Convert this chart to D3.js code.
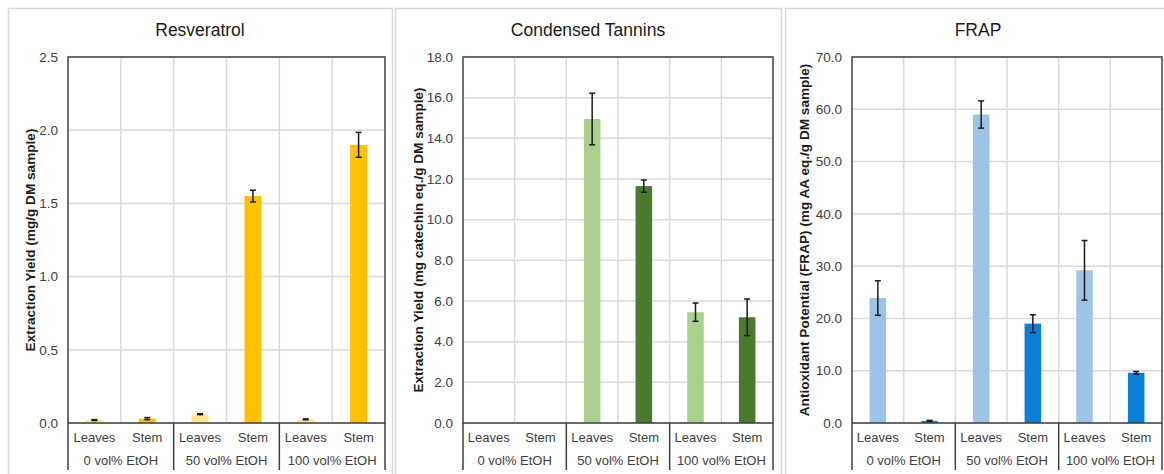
<!DOCTYPE html>
<html>
<head>
<meta charset="utf-8">
<script src="https://cdn.jsdelivr.net/npm/d3@7"></script>
<style>
  html, body { margin: 0; padding: 0; background: #fff; }
  svg { display: block; font-family: "Liberation Sans", Arial, sans-serif; }
</style>
</head>
<body>
<svg id="chart" width="1164" height="474"></svg>
<script>
// categories
const groups = ["0 vol% EtOH", "50 vol% EtOH", "100 vol% EtOH"]
const parts = ["Leaves", "Stem"]

// series values (Leaves, Stem for each group)
const resveratrolMean = [0.02, 0.03, 0.06, 1.55, 0.025, 1.90]
const resveratrolErr = [0.003, 0.007, 0.003, 0.04, 0.003, 0.085]
const tanninsMean = [0, 0, 14.95, 11.65, 5.45, 5.2]
const tanninsErr = [0, 0, 1.27, 0.3, 0.45, 0.9]
const frapMean = [23.9, 0.4, 59.0, 19.0, 29.2, 9.6]
const frapErr = [3.3, 0.1, 2.6, 1.7, 5.7, 0.25]

// tick labels
const resveratrolTicks = [0, 0.5, 1.0, 1.5, 2.0, 2.5]
const tanninsTicks = [0, 2, 4, 6, 8, 10, 12, 14, 16, 18]
const frapTicks = [0, 10, 20, 30, 40, 50, 60, 70]

const panels = [
  { title: "Resveratrol", yTitle: "Extraction Yield (mg/g DM sample)",
    mean: resveratrolMean, err: resveratrolErr, ticks: resveratrolTicks,
    colors: ["#ffe699", "#ffc000"],
    box: [8, 392], plot: [68, 385], yTitleX: 30 },
  { title: "Condensed Tannins", yTitle: "Extraction Yield (mg catechin eq./g DM sample)",
    mean: tanninsMean, err: tanninsErr, ticks: tanninsTicks,
    colors: ["#a9d18e", "#4a7a2e"],
    box: [395, 781], plot: [463, 773], yTitleX: 418 },
  { title: "FRAP", yTitle: "Antioxidant Potential (FRAP) (mg AA eq./g DM sample)",
    mean: frapMean, err: frapErr, ticks: frapTicks,
    colors: ["#9dc3e6", "#0a7fd8"],
    box: [785, 1171], plot: [852, 1162], yTitleX: 804 }
]

const plotTop = 57, plotBottom = 423
const svg = d3.select("#chart")

// one key per bar: group|part
const cats = groups.flatMap(g => parts.map(p => g + "|" + p))

panels.forEach(p => {
  const g = svg.append("g")

  // panel frame
  g.append("rect")
    .attr("x", p.box[0] + 0.5).attr("y", 8.5)
    .attr("width", p.box[1] - p.box[0]).attr("height", 480)
    .attr("fill", "none").attr("stroke", "#d9d9d9").attr("stroke-width", 1.5)

  const x = d3.scaleBand().domain(cats).range(p.plot).paddingInner(0).paddingOuter(0)
  const xGroup = d3.scaleBand().domain(groups).range(p.plot)
  const y = d3.scaleLinear().domain([0, d3.max(p.ticks)]).range([plotBottom, plotTop])

  // horizontal grid
  g.append("g").selectAll("line").data(p.ticks).join("line")
    .attr("x1", p.plot[0]).attr("x2", p.plot[1])
    .attr("y1", d => y(d)).attr("y2", d => y(d))
    .attr("stroke", "#d9d9d9").attr("stroke-width", 1.5)

  // vertical grid between categories
  g.append("g").selectAll("line").data(cats.slice(1)).join("line")
    .attr("x1", d => x(d)).attr("x2", d => x(d))
    .attr("y1", plotTop).attr("y2", plotBottom)
    .attr("stroke", "#d9d9d9").attr("stroke-width", 1.5)

  // y tick labels
  g.append("g").selectAll("text").data(p.ticks).join("text")
    .attr("x", p.plot[0] - 10).attr("y", d => y(d))
    .attr("dy", "0.35em").attr("text-anchor", "end")
    .attr("font-size", 13.5).attr("fill", "#404040")
    .text(d => d3.format(".1f")(d))

  // bars
  const data = cats.map((c, i) => ({ key: c, part: i % 2, mean: p.mean[i], err: p.err[i] }))
  const bw = x.bandwidth() * 0.32
  g.append("g").selectAll("rect").data(data.filter(d => d.mean > 0)).join("rect")
    .attr("x", d => x(d.key) + x.bandwidth() / 2 - bw / 2)
    .attr("width", bw)
    .attr("y", d => y(d.mean))
    .attr("height", d => y(0) - y(d.mean))
    .attr("fill", d => p.colors[d.part])

  // error bars
  const eb = g.append("g").attr("stroke", "#1a1a1a").attr("stroke-width", 1.5)
  data.filter(d => d.err > 0).forEach(d => {
    const cx = x(d.key) + x.bandwidth() / 2
    eb.append("line").attr("x1", cx).attr("x2", cx)
      .attr("y1", y(d.mean + d.err)).attr("y2", y(d.mean - d.err))
    ;[d.mean + d.err, d.mean - d.err].forEach(v => {
      eb.append("line").attr("x1", cx - 3).attr("x2", cx + 3)
        .attr("y1", y(v)).attr("y2", y(v))
    })
  })

  // plot border
  g.append("rect")
    .attr("x", p.plot[0]).attr("y", plotTop)
    .attr("width", p.plot[1] - p.plot[0]).attr("height", plotBottom - plotTop)
    .attr("fill", "none").attr("stroke", "#404040").attr("stroke-width", 1.5)

  // group dividers below axis
  g.append("g").selectAll("line").data([...groups.map(d => xGroup(d)), p.plot[1]]).join("line")
    .attr("x1", d => d).attr("x2", d => d)
    .attr("y1", plotBottom).attr("y2", 470)
    .attr("stroke", "#404040").attr("stroke-width", 1.5)

  // part labels
  g.append("g").selectAll("text").data(cats).join("text")
    .attr("x", d => x(d) + x.bandwidth() / 2).attr("y", 442)
    .attr("text-anchor", "middle").attr("font-size", 13).attr("fill", "#404040")
    .text(d => d.split("|")[1])

  // group labels
  g.append("g").selectAll("text").data(groups).join("text")
    .attr("x", d => xGroup(d) + xGroup.bandwidth() / 2).attr("y", 465)
    .attr("text-anchor", "middle").attr("font-size", 13).attr("fill", "#404040")
    .text(d => d)

  // chart title
  g.append("text")
    .attr("x", (p.box[0] + p.box[1]) / 2).attr("y", 36)
    .attr("text-anchor", "middle").attr("font-size", 17.5).attr("fill", "#1a1a1a")
    .text(p.title)

  // y axis title
  g.append("text")
    .attr("transform", `translate(${p.yTitleX},${(plotTop + plotBottom) / 2}) rotate(-90)`)
    .attr("dy", "0.35em")
    .attr("text-anchor", "middle").attr("font-size", 13.6).attr("font-weight", "bold")
    .attr("fill", "#1a1a1a")
    .text(p.yTitle)
})
</script>
</body>
</html>
